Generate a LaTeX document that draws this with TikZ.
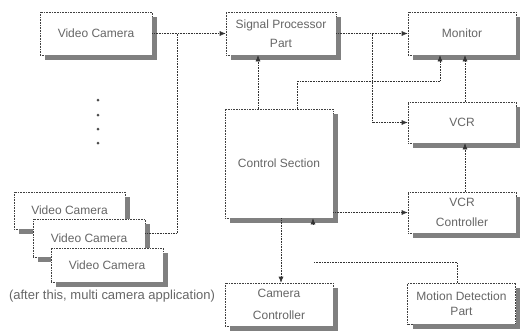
\documentclass[tikz,border=0pt]{standalone}
\usepackage{fontspec}
\setmainfont{Liberation Sans}
\usetikzlibrary{arrows.meta}
\begin{document}
\begin{tikzpicture}[x=1pt,y=-1pt,
  box/.style={draw=black!75, densely dotted, line width=0.6pt, fill=white,
    text=black!60, align=center, inner sep=0pt,
    font=\fontsize{12}{14.5}\selectfont},
  conn/.style={draw=black!80, densely dotted, line width=0.6pt},
  arr/.style={conn, -{Latex[length=6pt,width=5pt]}},
  dotmark/.style={circle, fill=black!70, inner sep=0pt, minimum size=3pt}]
\useasboundingbox (0,0) rectangle (520,330);

\node[box, minimum width=112pt, minimum height=43pt] (vc) at (96,33.5) {Video Camera};
\fill[gray] (152,17) rectangle (157,60);
\fill[gray] (45,55) rectangle (157,60);

\node[box, minimum width=110pt, minimum height=43pt] (sp) at (281,33.5) {Signal Processor\\[5pt]Part};
\fill[gray] (336,17) rectangle (341,60);
\fill[gray] (231,55) rectangle (341,60);

\node[box, minimum width=108pt, minimum height=43pt] (mon) at (462,33.5) {Monitor};
\fill[gray] (516,17) rectangle (521,60);
\fill[gray] (413,55) rectangle (521,60);

\node[box, minimum width=108pt, minimum height=41pt] (vcr) at (462,122.5) {VCR};
\fill[gray] (516,107) rectangle (521,148);
\fill[gray] (413,143) rectangle (521,148);

\node[box, minimum width=108pt, minimum height=41pt] (vcrc) at (462,212.5) {VCR\\[5pt]Controller};
\fill[gray] (516,197) rectangle (521,238);
\fill[gray] (413,233) rectangle (521,238);

\node[box, minimum width=108pt, minimum height=109pt] (cs) at (279,163.5) {Control Section};
\fill[gray] (333,114) rectangle (338,223);
\fill[gray] (230,218) rectangle (338,223);

\node[box, minimum width=108pt, minimum height=43pt] (cc) at (279,304.5) {Camera\\[8pt]Controller};
\fill[gray] (333,288) rectangle (338,331);
\fill[gray] (230,326) rectangle (338,331);

\node[box, minimum width=108pt, minimum height=41pt] (md) at (461.5,303.5) {Motion Detection\\Part};
\fill[gray] (515.5,288) rectangle (520.5,329);
\fill[gray] (412.5,324) rectangle (520.5,329);

\node[box, minimum width=111pt, minimum height=37pt] (vc1) at (69.5,210.5) {Video Camera};
\fill[gray] (125,197) rectangle (130,234);
\fill[gray] (19,229) rectangle (130,234);

\node[box, minimum width=112pt, minimum height=38pt] (vc2) at (89,238) {Video Camera};
\fill[gray] (145,224) rectangle (150,262);
\fill[gray] (38,257) rectangle (150,262);

\node[box, minimum width=112pt, minimum height=34pt] (vc3) at (107,265) {Video Camera};
\fill[gray] (163,253) rectangle (168,287);
\fill[gray] (56,282) rectangle (168,287);

\node[text=black!60, font=\fontsize{13}{15}\selectfont, inner sep=0pt] (cap) at (112,296) {(after this, multi camera application)};

\node[dotmark] (d1) at (98,100) {};
\node[dotmark] (d2) at (98,115) {};
\node[dotmark] (d3) at (98,129) {};
\node[dotmark] (d4) at (98,143) {};

\coordinate (j1) at (177,33.5);
\coordinate (j2) at (372,33.5);

\draw[arr] (vc.east) -- (sp.west);
\draw[conn] ([yshift=5pt]vc2.east) -| (j1);
\draw[arr] (sp.east) -- (mon.west);
\draw[arr] (j2) |- (vcr.west);
\draw[arr] ([xshift=-21pt]cs.north) -- ([xshift=-21pt]cs.north |- sp.south);
\draw[arr] ([xshift=18pt]cs.north) |- ([xshift=-22pt,yshift=-26pt]mon.south) -- ([xshift=-22pt]mon.south);
\draw[arr] ([xshift=3pt]vcr.north) -- ([xshift=3pt]mon.south);
\draw[arr] ([xshift=3pt]vcrc.north) -- ([xshift=3pt]vcr.south);
\draw[arr] (vcrc.west -| cs.east) -- (vcrc.west);
\draw[arr] ([xshift=2pt]cs.south) -- ([xshift=2pt]cc.north);
\coordinate (mj) at (313,262);
\draw[conn] ([xshift=-4.5pt]md.north) |- (mj);
\draw[-{Latex[length=6pt,width=5pt]}, draw=black!80, line width=0.6pt] ([xshift=34pt,yshift=-6pt]cs.south) -- ([xshift=34pt]cs.south);
\end{tikzpicture}
\end{document}
